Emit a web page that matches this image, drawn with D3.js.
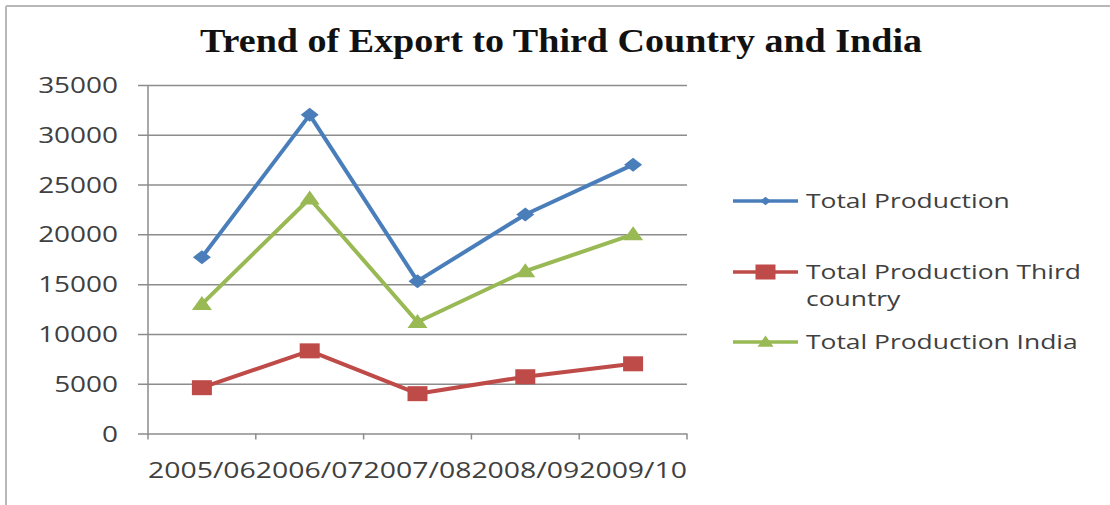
<!DOCTYPE html>
<html>
<head>
<meta charset="utf-8">
<script src="https://cdn.jsdelivr.net/npm/d3@7"></script>
<style>
  html, body { margin: 0; padding: 0; background: #fff; }
  svg { display: block; }
</style>
</head>
<body>
<svg id="chart" width="1110" height="505"></svg>
<script>
// Export trend data
const categories = ["2005/06", "2006/07", "2007/08", "2008/09", "2009/10"];
const totalProduction = [17700, 32000, 15300, 22000, 27000];
const totalThirdCountry = [4600, 8300, 4000, 5700, 7000];
const totalIndia = [13000, 23600, 11200, 16300, 20000];
const yTicks = [0, 5000, 10000, 15000, 20000, 25000, 30000, 35000];
const seriesNames = ["Total Production", "Total Production Third country", "Total Production India"];

const series = [
  { name: seriesNames[0], values: totalProduction, color: "#4A7EBB", marker: "diamond" },
  { name: seriesNames[1], values: totalThirdCountry, color: "#BE4B48", marker: "square" },
  { name: seriesNames[2], values: totalIndia, color: "#98B954", marker: "triangle" }
];

const svg = d3.select("#chart");
const W = 1110, H = 505;
const plot = { left: 148, right: 687, top: 85, bottom: 433.5 };
const textFont = "'Open Sans', 'DejaVu Sans', sans-serif";
const stretch = 1.33; // horizontal widening of the label type

// frame
svg.append("line").attr("x1", 6).attr("x2", W).attr("y1", 6).attr("y2", 6)
  .attr("stroke", "#b8b8b8").attr("stroke-width", 2);
svg.append("line").attr("x1", 6).attr("x2", 6).attr("y1", 6).attr("y2", H)
  .attr("stroke", "#b8b8b8").attr("stroke-width", 2);

// title
svg.append("text")
  .attr("x", 561).attr("y", 52)
  .attr("text-anchor", "middle")
  .attr("font-family", "'Liberation Serif', 'DejaVu Serif', serif")
  .attr("font-weight", "bold")
  .attr("font-size", 33)
  .attr("fill", "#111")
  .attr("textLength", 722)
  .attr("lengthAdjust", "spacingAndGlyphs")
  .text("Trend of Export to Third Country and India");

const x = d3.scaleBand().domain(categories).range([plot.left, plot.right]).paddingInner(0).paddingOuter(0);
const y = d3.scaleLinear().domain([0, 35000]).range([plot.bottom, plot.top]);

function widen(sel, k) {
  sel.each(function () {
    const w = this.getComputedTextLength();
    d3.select(this).attr("textLength", w * k).attr("lengthAdjust", "spacingAndGlyphs");
  });
}

// gridlines + y axis
const yAxis = d3.axisLeft(y).tickValues(yTicks).tickSize(-(plot.right - plot.left)).tickPadding(20).tickFormat(d3.format("d"));
const gy = svg.append("g").attr("transform", `translate(${plot.left},0)`).call(yAxis);
gy.select(".domain").remove();
gy.selectAll(".tick line")
  .attr("x1", -10)
  .attr("stroke", "#8c8c8c").attr("stroke-width", 1.5);
gy.selectAll(".tick text")
  .attr("font-family", textFont).attr("font-size", 21).attr("fill", "#404040")
  .attr("x", -30).attr("dy", "0.36em");
widen(gy.selectAll(".tick text"), stretch);

// vertical axis line
svg.append("line")
  .attr("x1", plot.left).attr("x2", plot.left)
  .attr("y1", plot.top).attr("y2", plot.bottom + 6)
  .attr("stroke", "#8c8c8c").attr("stroke-width", 1.5);

// x axis ticks at category boundaries
const boundaries = categories.map(c => x(c) + x.bandwidth());
svg.append("g").selectAll("line").data(boundaries).join("line")
  .attr("x1", d => d).attr("x2", d => d)
  .attr("y1", plot.bottom).attr("y2", plot.bottom + 6)
  .attr("stroke", "#8c8c8c").attr("stroke-width", 1.5);

// x labels
svg.append("g").selectAll("text").data(categories).join("text")
  .attr("x", d => x(d) + x.bandwidth() / 2)
  .attr("y", 478)
  .attr("text-anchor", "middle")
  .attr("font-family", textFont).attr("font-size", 21).attr("fill", "#404040")
  .attr("textLength", x.bandwidth())
  .attr("lengthAdjust", "spacingAndGlyphs")
  .text(d => d);

// markers
function markerPath(type) {
  if (type === "diamond") return "M0,-7 L9,0 L0,7 L-9,0 Z";
  if (type === "square") return "M-10,-7.5 L10,-7.5 L10,7.5 L-10,7.5 Z";
  return "M0,-8 L10,6 L-10,6 Z";
}

const line = d3.line()
  .x((d, i) => x(categories[i]) + x.bandwidth() / 2)
  .y(d => y(d));

series.forEach(s => {
  svg.append("path")
    .datum(s.values)
    .attr("d", line)
    .attr("fill", "none")
    .attr("stroke", s.color)
    .attr("stroke-width", 4)
    .attr("stroke-linejoin", "round");
  svg.append("g").selectAll("path").data(s.values).join("path")
    .attr("transform", (d, i) => `translate(${x(categories[i]) + x.bandwidth() / 2},${y(d)})`)
    .attr("d", markerPath(s.marker))
    .attr("fill", s.color);
});

// legend
const legendRows = [
  { s: series[0], y: 201, lines: ["Total Production"] },
  { s: series[1], y: 272, lines: ["Total Production Third", "country"] },
  { s: series[2], y: 342, lines: ["Total Production India"] }
];
const lg = svg.append("g");
legendRows.forEach(r => {
  lg.append("line")
    .attr("x1", 733).attr("x2", 798).attr("y1", r.y).attr("y2", r.y)
    .attr("stroke", r.s.color).attr("stroke-width", 3.5);
  const m = lg.append("path")
    .attr("transform", `translate(765.5,${r.y})`)
    .attr("d", markerPath(r.s.marker))
    .attr("fill", r.s.color);
  if (r.s.marker === "diamond") m.attr("transform", `translate(765.5,${r.y}) scale(0.6)`);
  if (r.s.marker === "triangle") m.attr("transform", `translate(765.5,${r.y}) scale(0.8)`);
  const t = lg.append("text")
    .attr("font-family", textFont).attr("font-size", 20).attr("fill", "#404040");
  r.lines.forEach((ln, i) => {
    t.append("tspan").attr("x", 806).attr("y", r.y + 7 + i * 27).text(ln);
  });
});
widen(lg.selectAll("tspan"), 1.32);
</script>
</body>
</html>
